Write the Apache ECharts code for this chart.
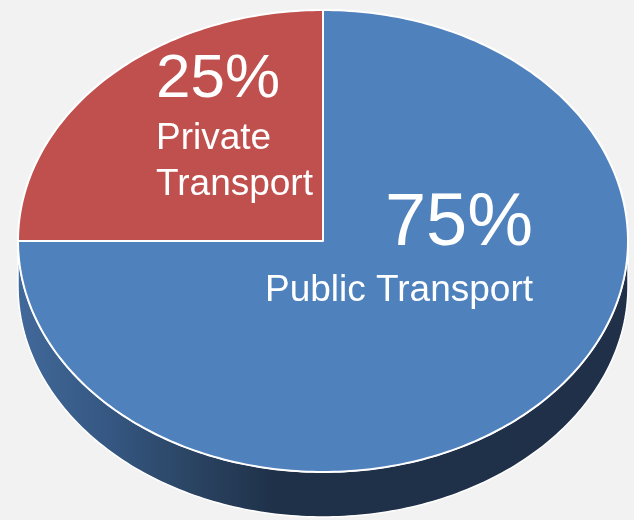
<!DOCTYPE html>
<html>
<head>
<meta charset="utf-8">
<script src="https://cdn.jsdelivr.net/npm/echarts@6/dist/echarts.min.js"></script>
<style>
  html, body { margin: 0; padding: 0; background: #f2f2f2; }
  #chart { width: 634px; height: 520px; }
</style>
</head>
<body>
<div id="chart"></div>
<script>
// data
const categories = ['Private Transport', 'Public Transport']
const values = [25, 75]
const labelLines = [['Private', 'Transport'], ['Public Transport']]

const total = values.reduce((a, b) => a + b, 0)
const startDeg = 90

// geometry of the tilted pie
const cx = 323
const cy = 241
const rx = 305
const ry = 231
const depth = 45
const colors = ['#c0504d', '#4f81bd']

// where the labels sit (left / right aligned blocks)
const labelPos = [
  { x: 156, align: 'left', pctY: 80, pctSize: 62, nameY: [139, 185], nameSize: 37 },
  { x: 533, align: 'right', pctY: 225, pctSize: 74, nameY: [291], nameSize: 37 }
]

function pt (deg, dy) {
  const a = deg * Math.PI / 180
  return [cx + rx * Math.cos(a), cy + dy - ry * Math.sin(a)]
}

function arc (from, to, dy) {
  const pts = []
  const n = Math.max(2, Math.ceil(Math.abs(to - from) / 1))
  for (let i = 0; i <= n; i++) {
    pts.push(pt(from + (to - from) * i / n, dy))
  }
  return pts
}

function renderItem (params, api) {
  const idx = params.dataIndex
  let cum = 0
  for (let i = 0; i < idx; i++) cum += values[i]
  const v = api.value(0)
  const start = startDeg + 360 * cum / total
  const end = start + 360 * v / total
  const children = []

  // visible front side (angles 180..360)
  const s = Math.max(start, 180)
  const e = Math.min(end, 360)
  if (s < e) {
    const sidePts = arc(s, e, 0).concat(arc(e, s, depth))
    children.push({
      type: 'polygon',
      z2: 1,
      shape: { points: sidePts },
      style: {
        fill: new echarts.graphic.LinearGradient(0, 0, 1, 0, [
          { offset: 0, color: '#41699a' },
          { offset: 0.15, color: '#355782' },
          { offset: 0.28, color: '#2b4564' },
          { offset: 0.42, color: '#1f3149' },
          { offset: 1, color: '#1f3048' }
        ]),
        stroke: '#ffffff',
        lineWidth: 1.5
      }
    })
  }

  // top face
  children.push({
    type: 'polygon',
    z2: 2,
    shape: { points: [[cx, cy]].concat(arc(start, end, 0)) },
    style: { fill: colors[idx], stroke: '#ffffff', lineWidth: 2, lineJoin: 'round' }
  })

  // labels
  const lp = labelPos[idx]
  const pct = Math.round(v / total * 100) + '%'
  children.push({
    type: 'text',
    z2: 5,
    x: lp.x,
    y: lp.pctY,
    style: {
      text: pct,
      fill: '#ffffff',
      font: 'normal ' + lp.pctSize + 'px "Liberation Sans", Arial, sans-serif',
      align: lp.align,
      verticalAlign: 'middle'
    }
  })
  labelLines[idx].forEach((line, j) => {
    children.push({
      type: 'text',
      z2: 5,
      x: lp.x,
      y: lp.nameY[j],
      style: {
        text: line,
        fill: '#ffffff',
        font: 'normal ' + lp.nameSize + 'px "Liberation Sans", Arial, sans-serif',
        align: lp.align,
        verticalAlign: 'middle'
      }
    })
  })

  return { type: 'group', children: children }
}

const chartInstance = echarts.init(document.getElementById('chart'))
const option = {
  backgroundColor: '#f2f2f2',
  animation: false,
  series: [{
    type: 'custom',
    coordinateSystem: 'none',
    renderItem: renderItem,
    data: values.map((v, i) => ({ name: categories[i], value: [v] }))
  }]
}
chartInstance.setOption(option)
</script>
</body>
</html>
